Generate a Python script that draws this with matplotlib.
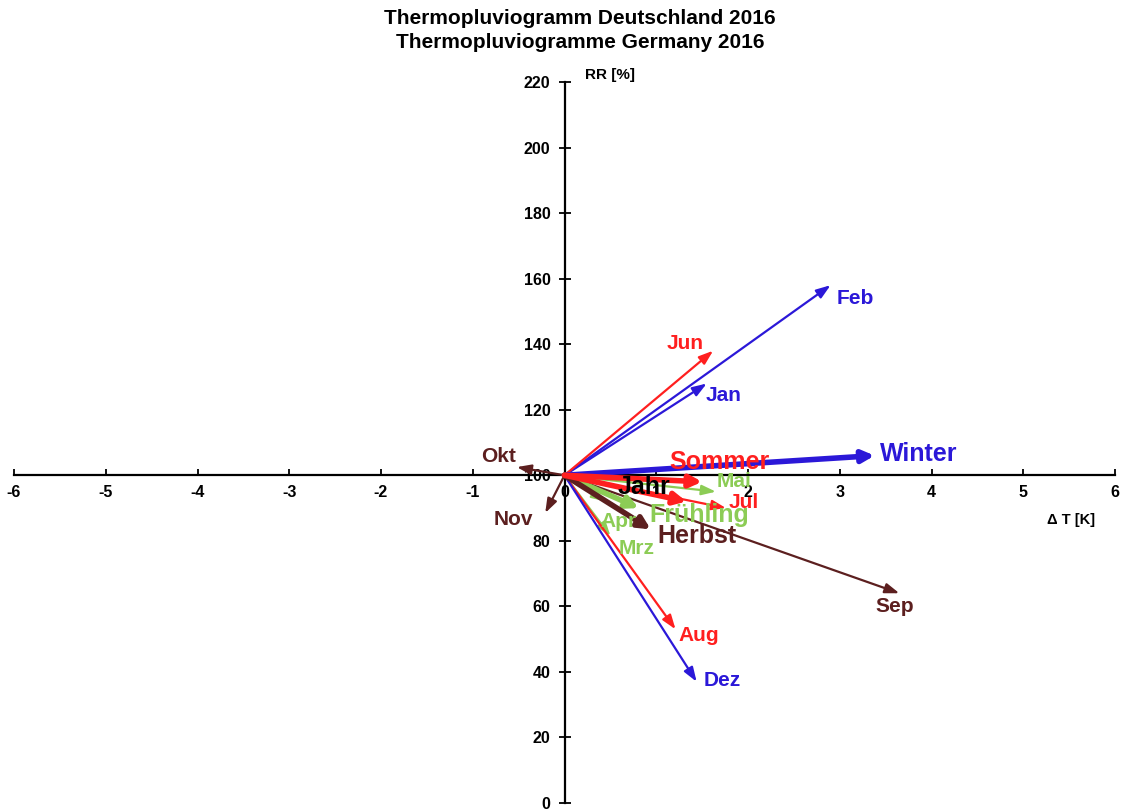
import matplotlib.pyplot as plt

plt.rcParams['font.family'] = ['Liberation Sans', 'DejaVu Sans']

# monthly anomalies 2016 (temperature in K, precipitation in % of normal)
months = ['Jan', 'Feb', 'Mrz', 'Apr', 'Mai', 'Jun', 'Jul', 'Aug', 'Sep', 'Okt', 'Nov', 'Dez']
month_dt = [1.55, 2.9, 0.5, 0.45, 1.65, 1.62, 1.76, 1.21, 3.65, -0.52, -0.21, 1.44]
month_rr = [128, 158, 81.5, 92, 95, 138, 90, 53, 64, 102.5, 88.5, 37]

seasons = ['Winter', 'Frühling', 'Sommer', 'Herbst', 'Jahr']
season_dt = [3.38, 0.81, 1.5, 0.94, 1.33]
season_rr = [106, 90, 98, 83.5, 92]

x_ticks = [-6, -5, -4, -3, -2, -1, 0, 1, 2, 3, 4, 5, 6]
y_ticks = [0, 20, 40, 60, 80, 100, 120, 140, 160, 180, 200, 220]

blue = '#2b18d8'
red = '#ff1f1f'
green = '#8ccc55'
brown = '#5c1f1f'

month_col = [blue, blue, green, green, green, red, red, red, brown, brown, brown, blue]
season_col = [blue, green, red, brown, red]
season_txt = [blue, green, red, brown, 'black']

# label offsets in pixels from the arrow head
month_off = {'Jan': (17, -12), 'Feb': (25, -13), 'Mrz': (26, -13), 'Apr': (13, -20),
             'Mai': (18, 10), 'Jun': (-28, 7), 'Jul': (18, 6), 'Aug': (23, -6),
             'Sep': (-5, -13), 'Okt': (-18, 11), 'Nov': (-32, -7), 'Dez': (26, 1)}
season_off = {'Winter': (44, 2), 'Frühling': (60, -7), 'Sommer': (17, 20),
              'Herbst': (46, -7), 'Jahr': (-43, 14)}

fig = plt.figure(figsize=(11.22, 8.10), dpi=100)
ax = fig.add_axes([14 / 1122, 7 / 810, 1101 / 1122, 721 / 810])
ax.set_xlim(-6, 6)
ax.set_ylim(0, 220)

for s in ['top', 'right']:
    ax.spines[s].set_visible(False)
ax.spines['left'].set_position(('data', 0))
ax.spines['bottom'].set_position(('data', 100))
ax.spines['left'].set_linewidth(1.6)
ax.spines['bottom'].set_linewidth(1.6)
ax.spines['left'].set_zorder(1)
ax.spines['bottom'].set_zorder(1)

ax.set_xticks(x_ticks)
ax.set_yticks(y_ticks)
ax.set_xticklabels([str(t) for t in x_ticks], fontsize=11.5, fontweight='bold')
ax.set_yticklabels([str(t) for t in y_ticks], fontsize=11.5, fontweight='bold')
ax.tick_params(axis='x', direction='in', length=4, width=1.3, pad=7)
ax.tick_params(axis='y', direction='inout', length=8, width=1.3, pad=6)

for i, m in enumerate(months):
    ax.annotate('', xy=(month_dt[i], month_rr[i]), xytext=(0, 100),
                arrowprops=dict(arrowstyle='-|>,head_length=0.85,head_width=0.3',
                                color=month_col[i], lw=1.6, shrinkA=0, shrinkB=0),
                zorder=3)
    ax.annotate(m, xy=(month_dt[i], month_rr[i]), xytext=month_off[m],
                textcoords='offset pixels', ha='center', va='center',
                fontsize=15, fontweight='bold', color=month_col[i], zorder=6)

for i, s in enumerate(seasons):
    ax.annotate('', xy=(season_dt[i], season_rr[i]), xytext=(0, 100),
                arrowprops=dict(arrowstyle='-|>,head_length=0.7,head_width=0.35',
                                color=season_col[i], lw=4, shrinkA=0, shrinkB=0),
                zorder=4)
    ax.annotate(s, xy=(season_dt[i], season_rr[i]), xytext=season_off[s],
                textcoords='offset pixels', ha='center', va='center',
                fontsize=18, fontweight='bold', color=season_txt[i], zorder=7)

fig.text(580 / 1122, 1 - 18 / 810, 'Thermopluviogramm Deutschland 2016', ha='center',
         va='center', fontsize=15, fontweight='bold')
fig.text(580 / 1122, 1 - 42 / 810, 'Thermopluviogramme Germany 2016', ha='center',
         va='center', fontsize=15, fontweight='bold')
fig.text(610 / 1122, 1 - 75 / 810, 'RR [%]', ha='center', va='center',
         fontsize=11, fontweight='bold')
fig.text(1071 / 1122, 1 - 520 / 810, 'Δ T [K]', ha='center', va='center',
         fontsize=10.5, fontweight='bold')

fig.savefig('out.png', dpi=100)
